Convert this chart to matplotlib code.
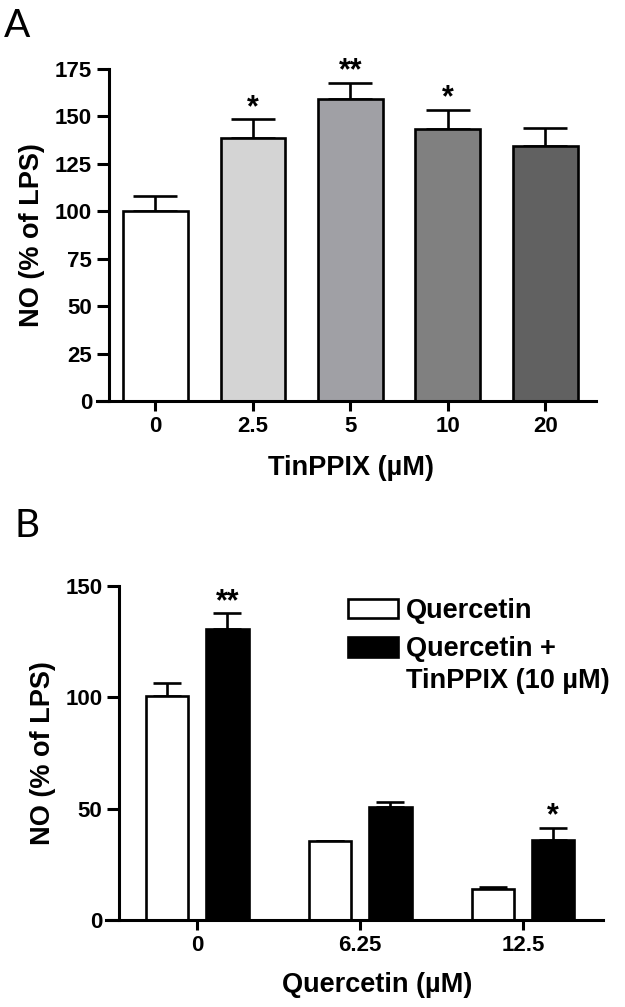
import numpy as np
import matplotlib
matplotlib.use('Agg')
import matplotlib.pyplot as plt

plt.rcParams['font.family'] = ['Liberation Sans', 'DejaVu Sans']
plt.rcParams['font.weight'] = 'bold'

# Panel A data
tin_doses = ['0', '2.5', '5', '10', '20']
tin_means = [100.3, 138.8, 159.4, 143.2, 134.4]
tin_sem = [7.9, 9.6, 8.4, 10.3, 9.5]
tin_stars = ['', '*', '**', '*', '']
tin_colors = ['#ffffff', '#d4d4d4', '#a0a0a5', '#808080', '#616161']

# Panel B data
quer_doses = ['0', '6.25', '12.5']
quer_means = [100.5, 35.5, 13.8]
quer_sem = [6.0, 0.0, 1.2]
combo_means = [130.7, 50.9, 35.8]
combo_sem = [7.1, 2.0, 5.7]
combo_stars = ['**', '', '*']

fig = plt.figure(figsize=(6.25, 10.07), dpi=100)

lw = 1.9
tick_fs = 16
label_fs = 19.5


def style_axis(ax, ylim, yticks):
    ax.spines['top'].set_visible(False)
    ax.spines['right'].set_visible(False)
    ax.spines['left'].set_linewidth(2.2)
    ax.spines['bottom'].set_linewidth(2.2)
    ax.spines['left'].set_position(('data', -0.48))
    ax.set_ylim(*ylim)
    ax.set_yticks(yticks)
    ax.tick_params(axis='x', length=7, width=2.2, pad=4, labelsize=tick_fs)
    ax.tick_params(axis='y', length=9, width=2.2, pad=3, labelsize=tick_fs)
    for lab in ax.get_xticklabels() + ax.get_yticklabels():
        lab.set_fontweight('bold')


# ---------- Panel A ----------
axA = fig.add_axes([97 / 625, 1 - 401 / 1007, 499 / 625, 332 / 1007])
xA = np.arange(len(tin_doses))
axA.bar(xA, tin_means, width=0.665, color=tin_colors, edgecolor='black',
        linewidth=lw, zorder=2)
axA.errorbar(xA, tin_means, yerr=[np.zeros(len(tin_sem)), tin_sem], fmt='none',
             ecolor='black', elinewidth=lw, capsize=16, capthick=lw, zorder=1)
for x, m, s, st in zip(xA, tin_means, tin_sem, tin_stars):
    if st:
        axA.annotate(st, (x, m + s), xytext=(0, 8), textcoords='offset points',
                     ha='center', va='center', fontsize=22, fontweight='bold')
axA.set_xlim(-0.6, 4.52)
axA.set_xticks(xA)
axA.set_xticklabels(tin_doses)
style_axis(axA, (0, 175), np.arange(0, 176, 25))
axA.set_ylabel('NO (% of LPS)', fontsize=label_fs, fontweight='bold')
axA.yaxis.set_label_coords(-0.105, 0.5)
axA.set_xlabel('TinPPIX (\u00b5M)', fontsize=label_fs, fontweight='bold')
axA.xaxis.set_label_coords(0.51, -0.163)

# ---------- Panel B ----------
axB = fig.add_axes([106 / 625, 1 - 920 / 1007, 497 / 625, 334 / 1007])
xB = np.arange(len(quer_doses))
off, w = 0.185, 0.26
b1 = axB.bar(xB - off, quer_means, width=w, color='white', edgecolor='black',
             linewidth=lw, zorder=2, label='Quercetin')
b2 = axB.bar(xB + off, combo_means, width=w, color='black', edgecolor='black',
             linewidth=lw, zorder=2, label='Quercetin +')
axB.errorbar(xB - off, quer_means, yerr=[np.zeros(3), quer_sem], fmt='none',
             ecolor='black', elinewidth=lw, capsize=10, capthick=lw, zorder=1)
axB.errorbar(xB + off, combo_means, yerr=[np.zeros(3), combo_sem], fmt='none',
             ecolor='black', elinewidth=lw, capsize=10, capthick=lw, zorder=1)
for x, m, s, st in zip(xB + off, combo_means, combo_sem, combo_stars):
    if st:
        axB.annotate(st, (x, m + s), xytext=(0, 8), textcoords='offset points',
                     ha='center', va='center', fontsize=22, fontweight='bold')
axB.set_xlim(-0.56, 2.49)
axB.set_xticks(xB)
axB.set_xticklabels(quer_doses)
style_axis(axB, (0, 150), [0, 50, 100, 150])
axB.set_ylabel('NO (% of LPS)', fontsize=label_fs, fontweight='bold')
axB.yaxis.set_label_coords(-0.10, 0.5)
axB.set_xlabel('Quercetin (\u00b5M)', fontsize=label_fs, fontweight='bold')
axB.xaxis.set_label_coords(0.545, -0.156)

leg = axB.legend(handles=[b1, b2], loc='upper left',
                 bbox_to_anchor=(348 / 625, 1 - 598 / 1007),
                 bbox_transform=fig.transFigure, frameon=False,
                 prop={'size': label_fs, 'weight': 'bold'}, borderpad=0,
                 borderaxespad=0, handlelength=1.85, handleheight=0.74,
                 handletextpad=0.3, labelspacing=0.45)
fig.text(406 / 625, 1 - 681 / 1007, 'TinPPIX (10 \u00b5M)', fontsize=label_fs,
         fontweight='bold', ha='left', va='center')

# panel letters
fig.text(4 / 625, 1 - 37 / 1007, 'A', fontsize=28, fontweight='normal',
         family=['Lato', 'DejaVu Sans'], ha='left', va='baseline')
fig.text(15 / 625, 1 - 537 / 1007, 'B', fontsize=28, fontweight='normal',
         family=['Lato', 'DejaVu Sans'], ha='left', va='baseline')

fig.savefig('out.png', dpi=100)
